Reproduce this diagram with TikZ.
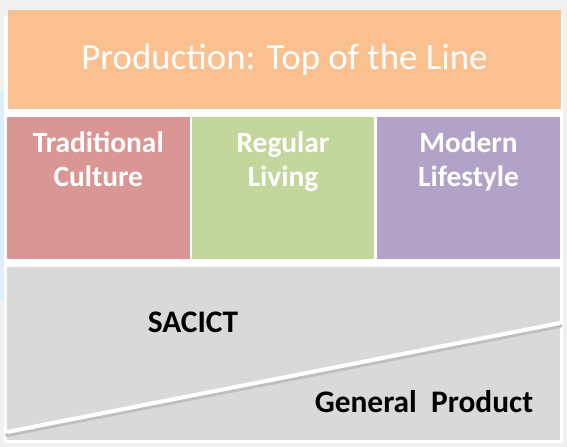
\documentclass[tikz,border=0pt]{standalone}
\usepackage{fontspec}
\setmainfont{Carlito}
\definecolor{topfill}{HTML}{FAC090}
\definecolor{tradfill}{HTML}{D99694}
\definecolor{regfill}{HTML}{C3D69B}
\definecolor{modfill}{HTML}{B3A2C7}
\definecolor{basefill}{HTML}{D9D9D9}
\definecolor{framefill}{HTML}{F0F0F0}
\definecolor{edgeblue}{HTML}{DDEEF6}
\begin{document}
\begin{tikzpicture}[x=1bp,y=-1bp,line join=bevel,
  band/.style={draw=none,inner sep=0pt,outer sep=0pt},
  colhead/.style={text=white,font=\bfseries\fontsize{29.5}{33.5}\selectfont,align=center,anchor=north,inner sep=0pt},
  basetext/.style={text=black,font=\bfseries\fontsize{31.5}{34}\selectfont,inner sep=0pt}]
%%
\useasboundingbox (0,0) rectangle (567,447);
\fill [framefill] (0,0) rectangle (567,447);
\fill [white] (4,16) rectangle (563,443);
\fill [edgeblue] (0,90) rectangle (4,300);
%
\node (node_top) at (284.5,59.5) [band,fill=topfill,minimum width=553bp,minimum height=99bp,text=white,font=\fontsize{37}{40}\selectfont] {Production: Top of the Line};
  \node (node_0) at (98.25,188) [band,fill=tradfill,minimum width=182.5bp,minimum height=142bp] {};
  \node (node_1) at (283,188) [band,fill=regfill,minimum width=182bp,minimum height=142bp] {};
  \node (node_2) at (468.5,188) [band,fill=modfill,minimum width=183bp,minimum height=142bp] {};
  \node (lbl_0) at (node_0.north) [colhead,yshift=-15bp] {Traditional\\Culture};
  \node (lbl_1) at (node_1.north) [colhead,yshift=-15bp] {Regular\\Living};
  \node (lbl_2) at (node_2.north) [colhead,yshift=-15bp] {Modern\\Lifestyle};
%
\node (node_base) at (283.5,353.5) [band,fill=basefill,minimum width=553bp,minimum height=173bp] {};
  \coordinate (cut_l) at (7,432);
  \coordinate (cut_r) at (560,323);
  \draw [black!25,line width=4bp,line cap=round] ([yshift=-3bp]cut_l) -- ([yshift=-3bp]cut_r);
  \draw [white,line width=4bp] (cut_l) -- (cut_r);
  \node (node_sacict) at (193,322) [basetext] {SACICT};
  \node (node_general) at (424,402) [basetext] {General\ \ Product};
%
\end{tikzpicture}
\end{document}
